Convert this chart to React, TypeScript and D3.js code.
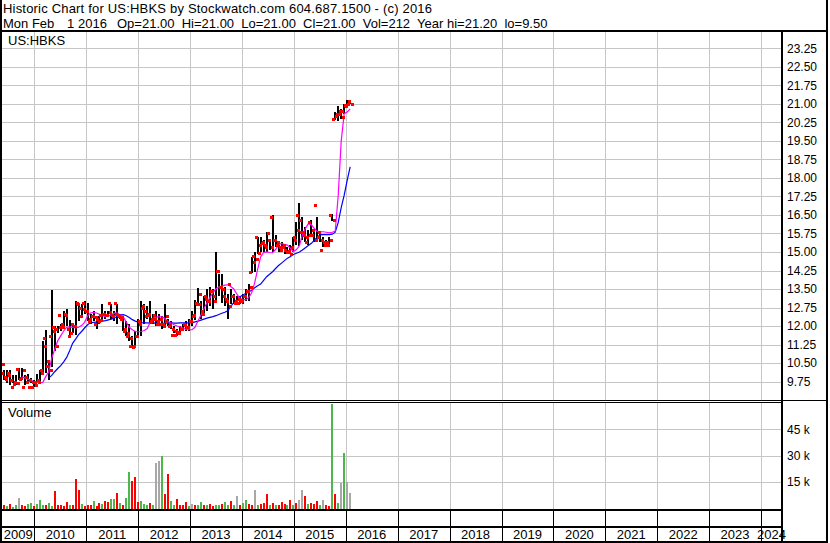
import React from 'react';
import * as d3 from 'd3';

// ---- Data ----
const SYMBOL = 'US:HBKS';
const HEADER1 = 'Historic Chart for US:HBKS by Stockwatch.com 604.687.1500 - (c) 2016';
const HEADER2_DATE = ['Mon Feb', '1 2016'];
const HEADER2_REST = 'Op=21.00  Hi=21.00  Lo=21.00  Cl=21.00  Vol=212  Year hi=21.20  lo=9.50';

// one entry every 21 days starting here
const START = new Date(2009, 4, 11);
const STEP_DAYS = 21;

const hi = [10.45,10.2,10.2,10.2,10.0,10.0,10.3,10.3,10.0,10.05,9.9,9.8,10.05,10.2,11.4,11.85,10.6,13.45,12.0,12.0,
  12.1,12.6,12.7,12.25,12.1,13.0,12.95,12.9,13.0,12.95,12.5,12.6,12.4,12.4,12.9,12.6,12.6,12.9,12.6,12.9,
  12.5,12.4,12.2,12.1,11.6,11.8,12.3,13.0,12.9,12.8,13.0,12.5,12.6,12.5,12.4,12.9,12.3,12.2,12.0,11.9,
  12.0,12.1,12.2,12.3,12.6,13.05,13.55,13.0,13.2,13.5,13.6,13.5,15.0,14.1,14.1,13.6,13.3,13.5,13.3,13.2,
  13.2,13.3,13.5,13.7,14.8,15.0,15.6,15.6,15.5,15.8,15.5,16.5,15.7,15.4,15.4,15.3,15.2,15.3,15.6,16.2,
  17.0,16.4,16.0,15.9,16.3,15.9,16.4,15.8,15.6,15.5,15.6,16.55,20.65,20.9,20.8,21.0,21.15,21.1];
const lo = [10.4,9.8,9.7,9.6,9.7,9.6,9.8,9.8,9.6,9.75,9.7,9.55,9.7,9.75,10.1,10.1,9.8,10.35,11.0,11.7,
  11.8,12.0,12.0,11.5,11.7,11.65,12.2,12.4,12.5,12.2,12.1,12.2,11.9,12.1,12.2,12.3,12.4,12.3,12.2,12.1,
  12.3,11.8,11.6,11.4,11.1,11.1,11.5,11.6,12.1,12.3,12.1,12.1,12.0,12.0,11.9,12.0,12.0,11.9,11.7,11.6,
  11.7,11.8,11.8,11.8,12.0,12.25,12.9,12.3,12.5,12.6,12.8,12.7,13.05,13.2,12.95,12.8,12.3,12.9,12.9,12.95,
  12.9,12.9,13.0,13.0,14.15,14.2,14.9,15.0,15.0,15.0,15.1,15.0,15.2,15.0,15.1,14.9,15.0,14.9,15.0,15.3,
  15.25,15.5,15.4,15.3,15.6,15.4,15.5,15.4,15.2,15.2,15.2,16.25,20.35,20.3,20.4,20.6,20.85,21.0];
const op = [10.45,10.1,9.95,10.1,9.8,9.65,10.25,9.85,9.55,9.95,9.55,9.55,9.75,9.8,10.2,11.5,10.4,11.6,11.95,11.9,
  12.45,12.1,12.5,11.9,11.7,12.0,12.95,12.75,12.95,12.6,12.2,12.4,12.1,12.3,12.45,12.5,12.45,12.95,12.45,12.95,
  12.45,12.3,11.8,11.6,11.2,11.15,11.6,12.2,12.75,12.6,12.45,12.2,12.45,12.1,12.1,12.1,12.2,12.0,11.65,11.65,
  11.75,11.9,12.1,11.95,12.2,12.4,12.95,12.9,12.6,13.2,13.0,13.4,13.2,14.25,13.6,13.5,13.1,13.7,13.2,12.95,
  12.95,13.0,13.2,13.4,14.2,14.85,15.6,14.95,15.35,15.3,15.75,16.4,15.5,15.3,15.2,15.2,15.1,15.0,14.9,15.6,
  16.5,16.3,15.8,15.4,16.2,15.7,16.9,15.6,15.1,15.4,15.4,16.5,20.4,20.5,20.6,20.7,20.95,21.0];
const cl = [10.45,9.85,10.0,9.55,9.75,9.7,9.9,10.2,9.75,9.8,9.75,9.6,9.75,10.1,11.2,10.6,10.2,11.8,11.2,11.95,
  11.95,12.45,11.6,12.1,12.0,12.9,12.4,12.7,12.6,12.3,12.4,12.35,12.2,12.25,12.5,12.45,12.55,12.4,12.5,12.4,
  12.35,11.9,11.7,11.5,11.2,11.6,12.1,12.8,12.4,12.5,12.3,12.3,12.2,12.3,12.0,12.4,12.1,11.9,11.8,11.7,
  11.9,12.05,11.95,12.2,12.45,12.9,13.3,12.5,13.1,13.0,13.4,13.0,14.25,13.6,13.2,13.0,12.8,13.2,13.0,13.1,
  13.05,13.2,13.4,13.6,14.6,14.7,15.3,15.4,15.2,15.5,15.2,15.5,15.4,15.1,15.3,15.0,15.05,15.2,15.5,15.9,
  15.8,15.7,15.6,15.7,15.9,15.5,15.8,15.5,15.3,15.3,15.5,16.3,20.6,20.7,20.45,20.9,21.1,21.0];

// short (magenta) and long (blue) moving averages, per entry
const maShort = [null,null,null,null,null,null,null,9.94,9.9,9.85,9.8,9.75,9.72,9.7,9.72,9.95,10.15,10.7,11.05,11.4,
  11.6,11.8,11.95,11.97,11.95,11.93,11.95,12.02,12.15,12.4,12.53,12.55,12.53,12.48,12.42,12.38,12.4,12.47,12.52,12.52,
  12.45,12.37,12.15,11.95,11.85,11.78,11.77,11.78,11.82,11.9,12.15,12.33,12.36,12.37,12.37,12.3,12.18,12.12,12.05,12.0,
  11.97,11.92,11.86,11.85,11.85,11.95,12.2,12.45,12.7,12.94,13.15,13.35,13.5,13.58,13.62,13.66,13.67,13.6,13.5,13.3,
  13.12,13.08,13.06,13.15,13.35,13.75,14.3,14.8,14.98,15.0,14.98,14.97,15.1,15.3,15.35,15.3,15.28,15.15,15.01,15.1,
  15.25,15.7,15.95,16.15,16.1,15.95,15.82,15.82,15.82,15.8,15.78,15.8,15.85,17.3,19.5,20.6,20.67,20.8];
const maLong = [null,null,null,null,null,null,null,null,null,null,null,null,null,null,null,null,9.9,10.0,10.15,10.28,
  10.4,10.55,10.73,11.0,11.3,11.47,11.65,11.78,11.92,12.05,12.13,12.15,12.16,12.17,12.2,12.22,12.25,12.28,12.33,12.4,
  12.45,12.46,12.42,12.35,12.26,12.2,12.16,12.14,12.13,12.13,12.12,12.13,12.12,12.1,12.1,12.12,12.13,12.13,12.12,12.12,
  12.13,12.13,12.13,12.13,12.14,12.17,12.2,12.24,12.28,12.32,12.35,12.38,12.42,12.47,12.52,12.56,12.62,12.8,12.95,13.08,
  13.18,13.26,13.32,13.38,13.45,13.55,13.63,13.7,13.85,14.0,14.1,14.2,14.33,14.45,14.55,14.65,14.75,14.82,14.9,14.95,
  15.0,15.08,15.17,15.26,15.35,15.48,15.6,15.7,15.7,15.7,15.7,15.72,15.8,16.2,16.8,17.3,17.9,18.45];

// volume in thousands, and direction: u = up (green), d = down (red), n = unchanged (grey)
const volume = [1.5,2.0,1.2,2.2,0.8,1.5,5.6,1.8,1.0,2.5,3.0,1.0,2.2,4.7,2.0,1.5,2.8,1.2,9.7,1.5,
  2.0,1.0,3.2,1.5,2.0,16.6,10.5,2.5,1.0,1.5,2.0,4.0,1.0,3.0,2.5,4.0,3.5,5.0,5.2,8.8,
  3.0,2.0,6.0,20.4,15.5,17.7,3.5,4.0,2.5,1.5,3.0,2.0,26.0,27.0,30.0,8.0,19.5,4.0,2.0,5.0,
  2.0,1.5,3.5,1.0,2.5,1.5,2.0,3.5,1.5,2.0,2.5,1.0,2.0,1.5,2.5,3.5,2.0,4.0,2.0,7.1,
  2.0,3.0,4.4,2.5,2.0,10.5,2.0,2.5,3.0,8.2,2.0,3.0,1.5,2.0,3.5,2.5,2.0,4.5,2.0,3.0,
  4.5,10.5,6.8,2.5,3.0,2.5,4.0,1.5,4.4,1.5,1.0,59.3,8.0,3.0,14.3,31.5,14.8,8.8];
const direction = 'dduduundduuduuuduudd' + 'ddduddduddduddudduud' + 'uduuddduuudunnudduud' + 'dddunduududduuduudun' + 'duuddnudddududddudud' + 'nndudddunddudununnd';

const priceTicks = [23.25,22.5,21.75,21.0,20.25,19.5,18.75,18.0,17.25,16.5,15.75,15.0,14.25,13.5,12.75,12.0,11.25,10.5,9.75];
const volumeTicks = [15,30,45];
const years = [2009,2010,2011,2012,2013,2014,2015,2016,2017,2018,2019,2020,2021,2022,2023,2024];

const FONT = '"Liberation Sans", Arial, sans-serif';
const GRID = '#c6c6c6';
const VOL_COLORS: Record<string, string> = { u: '#4cb84c', d: '#ff0000', n: '#a8a8a8' };

export default function App() {
  const W = 830, H = 543;
  const plotL = 2, plotR = 781;
  const pTop = 32, pBot = 400;
  const vTop = 403, vBot = 509;
  const axisX = 782;

  const x = d3.scaleTime()
    .domain([new Date(2010, 0, 1), new Date(2024, 0, 1)])
    .range([34.4, 761]);
  const y = d3.scaleLinear().domain([9.75, 23.25]).range([381.6, 48.3]);
  const v = d3.scaleLinear().domain([0, 45]).range([508, 429.4]);

  const dates = hi.map((_, i) => d3.timeDay.offset(START, i * STEP_DAYS));
  const xs = dates.map(d => x(d));

  const lineGen = d3.line<number | null>()
    .defined(d => d != null)
    .x((_, i) => xs[i])
    .y(d => y(d as number));

  const yearBounds = years.slice(1).map(yr => x(new Date(yr, 0, 1)));
  const yearLabels = years.map(yr => {
    const a = Math.max(plotL, x(new Date(yr, 0, 1)));
    const b = Math.min(axisX, x(new Date(yr + 1, 0, 1)));
    return { yr, cx: (a + b) / 2 };
  });

  return (
    <svg width={W} height={H} style={{ position: 'absolute', left: 0, top: 0, background: '#fff' }}
      fontFamily={FONT}>
      <defs>
        <clipPath id="pclip"><rect x={plotL} y={pTop} width={plotR - plotL} height={pBot - pTop} /></clipPath>
        <clipPath id="vclip"><rect x={plotL} y={vTop} width={plotR - plotL} height={vBot - vTop} /></clipPath>
      </defs>
      <rect x={0} y={0} width={W} height={H} fill="#fff" />

      {/* header */}
      <text x={3} y={13} fontSize={13} fill="#000" textLength={429} lengthAdjust="spacing">{HEADER1}</text>
      <text x={3} y={28} fontSize={13} fill="#000">{HEADER2_DATE[0]}</text>
      <text x={67} y={28} fontSize={13} fill="#000" textLength={40} lengthAdjust="spacing">{HEADER2_DATE[1]}</text>
      <text x={117} y={28} fontSize={13} fill="#000" style={{ whiteSpace: 'pre' }}>{HEADER2_REST}</text>

      {/* grid */}
      <g shapeRendering="crispEdges">
        {priceTicks.map(t => (
          <line key={'pg' + t} x1={plotL} x2={axisX} y1={Math.round(y(t)) + 0.5} y2={Math.round(y(t)) + 0.5} stroke={GRID} />
        ))}
        {yearBounds.map((bx, i) => (
          <line key={'pv' + i} x1={Math.round(bx) + 0.5} x2={Math.round(bx) + 0.5} y1={pTop} y2={pBot} stroke={GRID} />
        ))}
        {volumeTicks.map(t => (
          <line key={'vg' + t} x1={plotL} x2={axisX} y1={Math.round(v(t)) + 0.5} y2={Math.round(v(t)) + 0.5} stroke={GRID} />
        ))}
        {yearBounds.map((bx, i) => (
          <line key={'vv' + i} x1={Math.round(bx) + 0.5} x2={Math.round(bx) + 0.5} y1={vTop} y2={vBot} stroke={GRID} />
        ))}
      </g>

      {/* price bars */}
      <g clipPath="url(#pclip)" shapeRendering="crispEdges">
        {hi.map((h, i) => (
          h > lo[i] ? <rect key={'b' + i} x={Math.round(xs[i]) - 1} y={y(h)} width={2} height={Math.max(1, y(lo[i]) - y(h))} fill="#000" /> : null
        ))}
      </g>
      <g clipPath="url(#pclip)" fill="none" strokeWidth={1.2}>
        <path d={lineGen(maLong) || ''} stroke="#0000ff" />
        <path d={lineGen(maShort) || ''} stroke="#ff00ff" />
      </g>
      <g clipPath="url(#pclip)" shapeRendering="crispEdges" fill="#ff0000">
        {op.map((o, i) => (
          <rect key={'o' + i} x={Math.round(xs[i]) - 3} y={Math.round(y(o)) - 1} width={3} height={3} />
        ))}
        {cl.map((c, i) => (
          <rect key={'c' + i} x={Math.round(xs[i]) + 1} y={Math.round(y(c)) - 1} width={3} height={3} />
        ))}
      </g>

      {/* volume bars */}
      <g clipPath="url(#vclip)" shapeRendering="crispEdges">
        {volume.map((vol, i) => (
          <rect key={'v' + i} x={Math.round(xs[i]) - 1} y={v(vol)} width={2} height={vBot - v(vol)}
            fill={VOL_COLORS[direction[i]]} />
        ))}
      </g>

      {/* labels inside panels */}
      <text x={8} y={45} fontSize={13} fill="#000">{SYMBOL}</text>
      <text x={8} y={417} fontSize={13} fill="#000">Volume</text>

      {/* right axis labels */}
      {priceTicks.map(t => (
        <text key={'pt' + t} x={787} y={y(t)} dy="0.36em" fontSize={12} fill="#000">{t.toFixed(2)}</text>
      ))}
      {volumeTicks.map(t => (
        <text key={'vt' + t} x={787} y={v(t)} dy="0.36em" fontSize={12} fill="#000">{t + ' k'}</text>
      ))}

      {/* date axis */}
      <g shapeRendering="crispEdges">
        {yearBounds.map((bx, i) => (
          <line key={'ds' + i} x1={Math.round(bx) + 0.5} x2={Math.round(bx) + 0.5} y1={vBot} y2={542} stroke="#000" />
        ))}
      </g>
      {yearLabels.map(l => (
        <text key={'yl' + l.yr} x={l.cx} y={539} fontSize={13} textAnchor="middle" fill="#000">{l.yr}</text>
      ))}

      {/* frame lines */}
      <g shapeRendering="crispEdges" fill="#000">
        <rect x={0} y={0} width={2} height={H} />
        <rect x={826} y={0} width={2} height={H} />
        <rect x={0} y={30} width={828} height={2} />
        <rect x={axisX - 1} y={30} width={2} height={512} />
        <rect x={0} y={400} width={828} height={1} />
        <rect x={0} y={402} width={axisX} height={1} />
        <rect x={0} y={509} width={axisX} height={2} />
        <rect x={0} y={526} width={axisX} height={2} />
        <rect x={0} y={541} width={828} height={2} />
      </g>
    </svg>
  );
}
